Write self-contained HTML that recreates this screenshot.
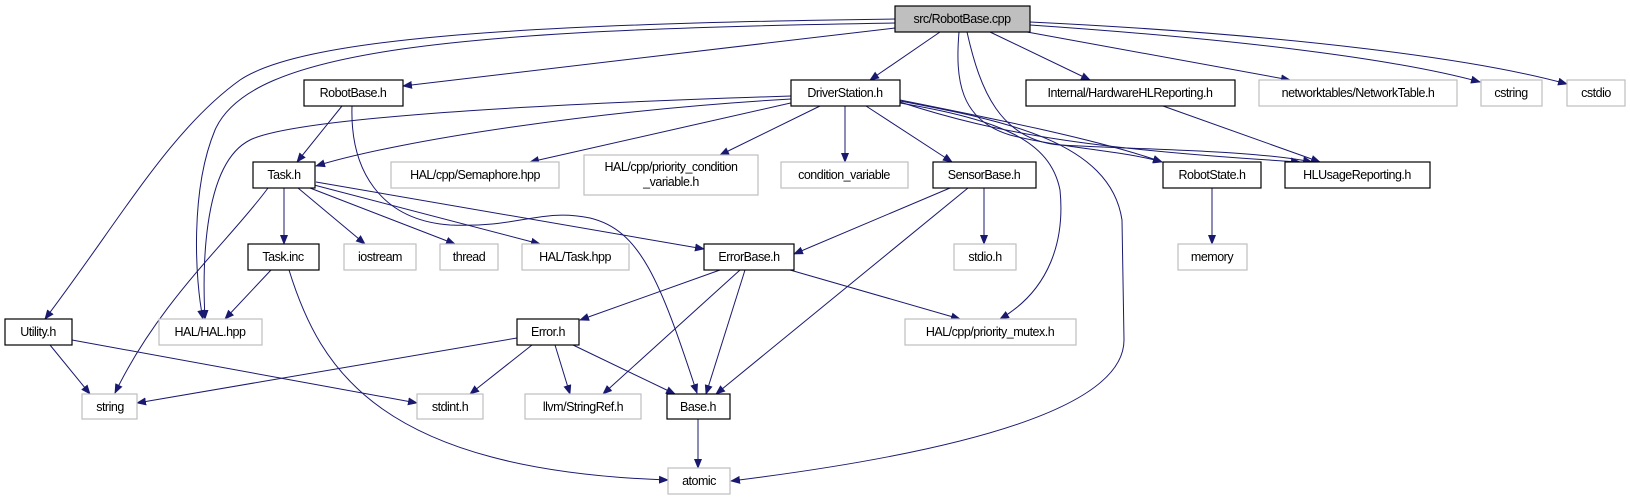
<!DOCTYPE html>
<html><head><meta charset="utf-8"><style>
html,body{margin:0;padding:0;background:#fff;}
svg{display:block;}
text{font-family:"Liberation Sans",sans-serif;font-size:12.5px;letter-spacing:-0.5px;fill:#000;}
.k{fill:#fff;stroke:#000;stroke-width:1.2;}
.g{fill:#fff;stroke:#bfbfbf;stroke-width:1.2;}
.e{fill:none;stroke:#191970;stroke-width:1;marker-end:url(#a);}
</style></head><body>
<svg width="1630" height="500" viewBox="0 0 1630 500" xmlns="http://www.w3.org/2000/svg">
<defs><marker id="a" markerWidth="10" markerHeight="8" refX="9" refY="4" orient="auto" markerUnits="userSpaceOnUse"><path d="M0,0 L10,4 L0,8 z" fill="#191970"/></marker></defs>
<g>
<path class="e" d="M895,19 C500,24 300,40 240,80 C170,130 120,220 45,319"/>
<path class="e" d="M895,23 C450,30 250,50 215,130 C190,190 195,280 203,319"/>
<path class="e" d="M895,28 L403,86"/>
<path class="e" d="M940,32 L870,80"/>
<path class="e" d="M959,32 C955,80 960,120 1010,135 C1060,148 1120,150 1162,162"/>
<path class="e" d="M967,32 C980,90 1000,140 1060,145 C1150,150 1250,150 1312,162"/>
<path class="e" d="M990,32 L1090,80"/>
<path class="e" d="M1027,32 L1290,80"/>
<path class="e" d="M1030,25 C1250,40 1400,60 1480,82"/>
<path class="e" d="M1030,22 C1300,35 1480,60 1567,84"/>
<path class="e" d="M791,99 C600,110 400,140 316,166"/>
<path class="e" d="M791,96 C600,102 300,115 250,140 C200,165 203,280 205,319"/>
<path class="e" d="M795,102 L530,162"/>
<path class="e" d="M820,106 L720,155"/>
<path class="e" d="M845,106 L845,162"/>
<path class="e" d="M866,106 L952,162"/>
<path class="e" d="M900,100 C1000,120 1100,140 1162,162"/>
<path class="e" d="M900,102 C1000,135 1100,150 1300,162"/>
<path class="e" d="M900,103 C1000,120 1050,140 1060,190 C1065,240 1050,290 1000,319"/>
<path class="e" d="M900,101 C1000,120 1110,140 1122,220 L1124,340 C1124,420 900,460 731,481"/>
<path class="e" d="M342,106 L297,162"/>
<path class="e" d="M352,106 C350,170 380,220 450,225 C520,228 540,208 590,218 C640,230 660,280 697,393"/>
<path class="e" d="M268,188 C230,240 160,300 115,393"/>
<path class="e" d="M284,188 L284,244"/>
<path class="e" d="M298,188 L365,244"/>
<path class="e" d="M310,188 L455,244"/>
<path class="e" d="M314,185 L540,244"/>
<path class="e" d="M316,182 L704,249"/>
<path class="e" d="M271,270 L225,319"/>
<path class="e" d="M289,270 C320,370 380,470 668,480"/>
<path class="e" d="M50,345 L90,394"/>
<path class="e" d="M72,340 L417,403"/>
<path class="e" d="M720,270 L580,320"/>
<path class="e" d="M740,270 L603,394"/>
<path class="e" d="M745,270 L706,394"/>
<path class="e" d="M790,270 L960,319"/>
<path class="e" d="M950,188 L794,254"/>
<path class="e" d="M984,188 L984,244"/>
<path class="e" d="M968,188 L716,394"/>
<path class="e" d="M1212,188 L1212,244"/>
<path class="e" d="M1163,106 L1320,162"/>
<path class="e" d="M517,338 L137,403"/>
<path class="e" d="M532,345 L470,394"/>
<path class="e" d="M555,345 L570,394"/>
<path class="e" d="M573,345 L675,394"/>
<path class="e" d="M698,419 L698,468"/>
</g>
<g text-anchor="middle">
<rect x="895" y="6" width="135" height="26" fill="#bfbfbf" stroke="#000" stroke-width="1.2"/><text x="962" y="23">src/RobotBase.cpp</text>
<rect class="k" x="304" y="80" width="99" height="26"/><text x="353" y="97">RobotBase.h</text>
<rect class="k" x="791" y="80" width="109" height="26"/><text x="845" y="97">DriverStation.h</text>
<rect class="k" x="1026" y="80" width="209" height="26"/><text x="1130" y="97">Internal/HardwareHLReporting.h</text>
<rect class="g" x="1259" y="80" width="198" height="26"/><text x="1358" y="97">networktables/NetworkTable.h</text>
<rect class="g" x="1481" y="80" width="61" height="26"/><text x="1511" y="97">cstring</text>
<rect class="g" x="1567" y="80" width="58" height="26"/><text x="1596" y="97">cstdio</text>
<rect class="k" x="253" y="162" width="62" height="26"/><text x="284" y="179">Task.h</text>
<rect class="g" x="391" y="162" width="168" height="26"/><text x="475" y="179">HAL/cpp/Semaphore.hpp</text>
<rect class="g" x="584" y="155" width="174" height="40"/><text x="671" y="171">HAL/cpp/priority_condition</text><text x="671" y="186">_variable.h</text>
<rect class="g" x="781" y="162" width="127" height="26"/><text x="844" y="179">condition_variable</text>
<rect class="k" x="933" y="162" width="103" height="26"/><text x="984" y="179">SensorBase.h</text>
<rect class="k" x="1163" y="162" width="98" height="26"/><text x="1212" y="179">RobotState.h</text>
<rect class="k" x="1285" y="162" width="145" height="26"/><text x="1357" y="179">HLUsageReporting.h</text>
<rect class="k" x="248" y="244" width="71" height="26"/><text x="283" y="261">Task.inc</text>
<rect class="g" x="344" y="244" width="72" height="26"/><text x="380" y="261">iostream</text>
<rect class="g" x="440" y="244" width="58" height="26"/><text x="469" y="261">thread</text>
<rect class="g" x="522" y="244" width="107" height="26"/><text x="575" y="261">HAL/Task.hpp</text>
<rect class="k" x="704" y="244" width="90" height="26"/><text x="749" y="261">ErrorBase.h</text>
<rect class="g" x="954" y="244" width="62" height="26"/><text x="985" y="261">stdio.h</text>
<rect class="g" x="1178" y="244" width="69" height="26"/><text x="1212" y="261">memory</text>
<rect class="k" x="5" y="319" width="67" height="26"/><text x="38" y="336">Utility.h</text>
<rect class="g" x="159" y="319" width="103" height="26"/><text x="210" y="336">HAL/HAL.hpp</text>
<rect class="k" x="517" y="319" width="62" height="26"/><text x="548" y="336">Error.h</text>
<rect class="g" x="905" y="319" width="171" height="26"/><text x="990" y="336">HAL/cpp/priority_mutex.h</text>
<rect class="g" x="82" y="394" width="55" height="25"/><text x="110" y="411">string</text>
<rect class="g" x="417" y="394" width="66" height="25"/><text x="450" y="411">stdint.h</text>
<rect class="g" x="525" y="394" width="116" height="25"/><text x="583" y="411">llvm/StringRef.h</text>
<rect class="k" x="667" y="394" width="63" height="25"/><text x="698" y="411">Base.h</text>
<rect class="g" x="668" y="468" width="62" height="26"/><text x="699" y="485">atomic</text>
</g>
</svg>
</body></html>
